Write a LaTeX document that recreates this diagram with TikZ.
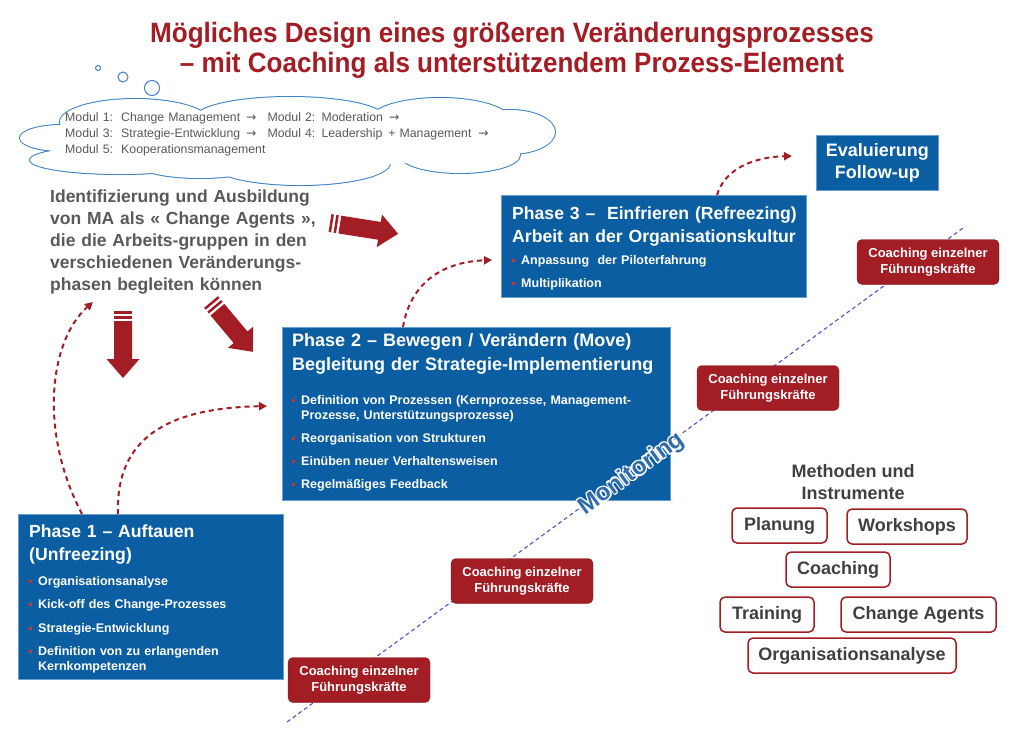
\documentclass[tikz,border=0pt]{standalone}
\usepackage{fontspec}
\setmainfont{Liberation Sans}
\newfontfamily\arrowfont{DejaVu Sans}
\usepackage{graphicx}
\usetikzlibrary{arrows.meta,calc}
\definecolor{dred}{HTML}{A31D24}
\definecolor{pblue}{HTML}{0B5EA1}
\definecolor{pborder}{HTML}{6A9FD0}
\definecolor{tgray}{HTML}{595959}
\definecolor{mgray}{HTML}{404040}
\definecolor{cloudblue}{HTML}{3D82C4}
\definecolor{monblue}{HTML}{4A55C8}
\definecolor{montext}{HTML}{2F6CAA}
\definecolor{bulred}{HTML}{D0302C}
\newcommand\fs[2]{\fontsize{#1}{#2}\selectfont}
\newcommand\bul{\makebox[9pt][l]{\textcolor{bulred}{\rule[2.5pt]{3pt}{3pt}}}}
\newcommand\arr{{\arrowfont →}}
\newcommand\haloone[3]{\rlap{\hspace{#1}\raisebox{#2}{\color{white}#3}}}
\newcommand\halotext[2]{\haloone{1.4pt}{0pt}{#2}\haloone{-1.4pt}{0pt}{#2}\haloone{0pt}{1.4pt}{#2}\haloone{0pt}{-1.4pt}{#2}\haloone{1pt}{1pt}{#2}\haloone{-1pt}{1pt}{#2}\haloone{1pt}{-1pt}{#2}\haloone{-1pt}{-1pt}{#2}\textcolor{#1}{#2}}
\newcommand\blockarrow[3]{%
  \begin{scope}[shift={#1}, rotate=#2]
    \fill[dred] (0,-9) rectangle (2.5,9);
    \fill[dred] (5,-9) rectangle (7.5,9);
    \fill[dred] (10,-9) -- ({#3-19},-9) -- ({#3-19},-16.5) -- (#3,0) -- ({#3-19},16.5) -- ({#3-19},9) -- (10,9) -- cycle;
  \end{scope}}
\begin{document}
\begin{tikzpicture}[x=1pt,y=-1pt,
  title/.style={font=\fs{28}{30}\bfseries, text=dred, align=center, inner sep=0},
  phasebox/.style={draw=pborder, fill=pblue, line width=0.8pt, inner sep=0, anchor=north west},
  hdr/.style={font=\fs{17.6}{23.5}\bfseries, text=white, align=left, text width=385pt, inner sep=0, anchor=base west},
  blist/.style={font=\fs{12.5}{15}\bfseries, text=white, align=left, text width=380pt, inner sep=0, anchor=base west},
  coach/.style={rounded corners=5pt, fill=dred, draw=dred!80!black, text=white, font=\fs{13}{16}\bfseries, align=center, minimum width=142pt, minimum height=45pt, inner sep=0},
  mbox/.style={draw=dred, line width=1.5pt, rounded corners=5pt, fill=white, text=mgray, font=\fs{18}{20}\bfseries, minimum height=35pt, inner sep=0},
  dasharr/.style={dred, line width=2pt, dash pattern=on 5pt off 4pt, -{Triangle[length=8pt,width=8pt]}},
  monstyle/.style={font=\fs{24}{24}\bfseries, rotate=36, inner sep=0}
]
\useasboundingbox (0,0) rectangle (1024,732);
\fill[white] (0,0) rectangle (1024,732);

% title
\node[title] (title) at (512,51) {\scalebox{0.93}[1]{\begin{tabular}{@{}c@{}}Mögliches Design eines größeren Veränderungsprozesses\\– mit Coaching als unterstützendem Prozess-Element\end{tabular}}};

% monitoring line
\coordinate (mstart) at (287,722);
\coordinate (mend) at (963,228);
\draw[monblue, line width=1.1pt, dash pattern=on 4pt off 3pt] (mstart) -- (mend);

% cloud (union of lobes)
\def\cloudlobes{
  (62,138) ellipse [x radius=42, y radius=13]
  (120,160) ellipse [x radius=90, y radius=14]
  (135,122) ellipse [x radius=75, y radius=23]
  (290,118) ellipse [x radius=95, y radius=21]
  (440,120) ellipse [x radius=70, y radius=22]
  (510,132) ellipse [x radius=45, y radius=22]
  (460,155) ellipse [x radius=60, y radius=18]
  (300,163) ellipse [x radius=90, y radius=22]
  (200,165) ellipse [x radius=60, y radius=13]}
\draw[cloudblue, line width=2pt] \cloudlobes;
\fill[white] \cloudlobes (290,140) ellipse [x radius=200, y radius=28];
\draw[cloudblue, line width=1pt] (98,68) circle (2.5);
\draw[cloudblue, line width=1pt] (123,77) circle (5);
\draw[cloudblue, line width=1pt] (152,88) circle (7.5);
\node[font=\fs{12.3}{16}, text=tgray, align=left, text width=470pt, inner sep=0, anchor=base west] (ctext) at (65,121)
  {Modul 1:\ \ Change Management\hspace{6pt}\arr\hspace{11pt}Modul 2: Moderation\hspace{6pt}\arr\\Modul 3:\ \ Strategie-Entwicklung\hspace{6pt}\arr\hspace{11pt}Modul 4: Leadership\hspace{6pt}+ Management\hspace{7pt}\arr\\Modul 5:\ \ Kooperationsmanagement};

% identification text
\node[font=\fs{17.5}{22}\bfseries, text=tgray, align=left, text width=300pt, inner sep=0, anchor=base west] (ident) at (50,202)
  {Identifizierung und Ausbildung\\von MA als « Change Agents »,\\die die Arbeits-gruppen in den\\verschiedenen Veränderungs-\\phasen begleiten können};

% block arrows
\blockarrow{(330,223)}{-9}{69}
\blockarrow{(123,311)}{-90}{67}
\blockarrow{(211,302)}{-50}{65}

% phase 3
\node[phasebox, minimum width=305pt, minimum height=102pt] (p3) at (501,195) {};
\node[hdr] (p3h) at (512,219) {Phase 3 –\ \ Einfrieren (Refreezing)\\Arbeit an der Organisationskultur};
\node[blist, font=\fs{12.5}{23}\bfseries] (p3b) at (512,264) {\bul Anpassung\ \ der Piloterfahrung\\\bul Multiplikation};

% evaluation
\node[phasebox, minimum width=122pt, minimum height=55pt, font=\fs{18}{22}\bfseries, text=white, align=center] (eval) at (816,135) {Evaluierung\\Follow-up};

% phase 2
\node[phasebox, minimum width=388pt, minimum height=173pt] (p2) at (282,327) {};
\node[hdr, font=\fs{18}{24}\bfseries] (p2h) at (292,346) {Phase 2 – Bewegen / Verändern (Move)\\Begleitung der Strategie-Implementierung};
\node[blist] (p2b) at (292,404) {\bul Definition von Prozessen (Kernprozesse, Management-\\\hspace*{9pt}Prozesse, Unterstützungsprozesse)\\[8pt]\bul Reorganisation von Strukturen\\[8pt]\bul Einüben neuer Verhaltensweisen\\[8pt]\bul Regelmäßiges Feedback};

% phase 1
\node[phasebox, minimum width=265pt, minimum height=165pt] (p1) at (18,514) {};
\node[hdr] (p1h) at (29,537) {Phase 1 – Auftauen\\(Unfreezing)};
\node[blist] (p1b) at (29,585) {\bul Organisationsanalyse\\[8pt]\bul Kick-off des Change-Prozesses\\[9pt]\bul Strategie-Entwicklung\\[8pt]\bul Definition von zu erlangenden\\\hspace*{9pt}Kernkompetenzen};

% dashed arrows
\coordinate (aend) at (93,302);
\coordinate (bend) at (267,406);
\coordinate (cend) at (492,260);
\coordinate (dend) at (792,156);
\draw[dasharr] ([xshift=64pt]p1.north west) .. controls (38,430) and (50,340) .. (aend);
\draw[dasharr] ([xshift=100pt]p1.north west) .. controls (115,430) and (180,408) .. (bend);
\draw[dasharr] ([xshift=121pt]p2.north west) .. controls (410,285) and (440,262) .. (cend);
\draw[dasharr] ([xshift=216pt]p3.north west) .. controls (725,168) and (755,157) .. (dend);

% coaching boxes
\node[coach] (c1) at (359,680) {Coaching einzelner\\Führungskräfte};
\node[coach] (c2) at (522,581) {Coaching einzelner\\Führungskräfte};
\node[coach] (c3) at (768,388) {Coaching einzelner\\Führungskräfte};
\node[coach] (c4) at (928,262) {Coaching einzelner\\Führungskräfte};

% monitoring text
\node[monstyle] (mon) at (632,474) {\halotext{montext}{Monitoring}};

% methods
\node[font=\fs{18}{22}\bfseries, text=mgray, align=center, inner sep=0] (mtitle) at (853,482) {Methoden und\\Instrumente};
\node[mbox, minimum width=95pt] (m1) at (779.5,525.5) {Planung};
\node[mbox, minimum width=120pt] (m2) at (907,526.5) {Workshops};
\node[mbox, minimum width=104pt] (m3) at (838,569.5) {Coaching};
\node[mbox, minimum width=94pt] (m4) at (767,614.5) {Training};
\node[mbox, minimum width=155pt] (m5) at (918.5,614.5) {Change Agents};
\node[mbox, minimum width=208pt] (m6) at (852,655.5) {Organisationsanalyse};
\end{tikzpicture}
\end{document}
